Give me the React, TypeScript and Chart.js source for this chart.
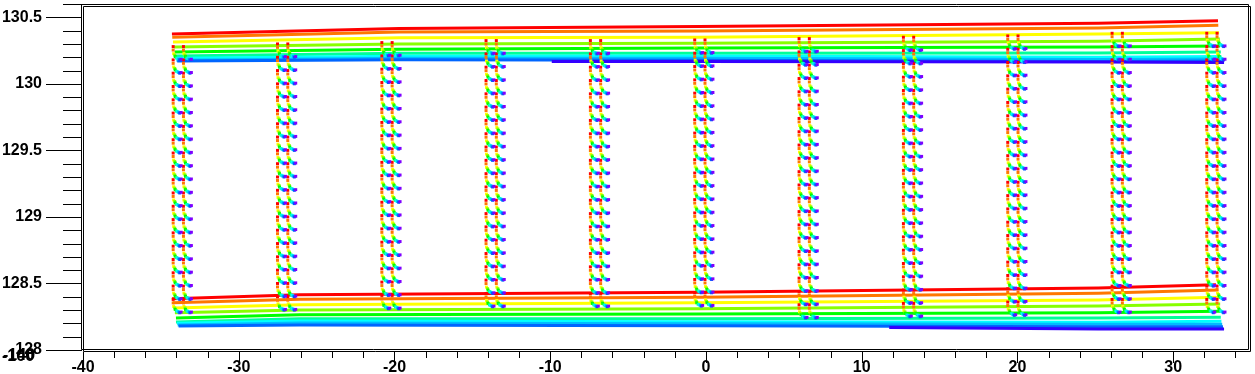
import React, { useEffect, useRef } from 'react';
import { Chart, registerables } from 'chart.js';

Chart.register(...registerables);

// ROOT-like rainbow palette (10 series)
const COLORS = ['#ff0000', '#ff7700', '#ffff00', '#88ff00', '#00ff00', '#00ff99', '#00ffff', '#00bbff', '#0055ff', '#7f00ff'];
const LINE_COLORS = ['#ff0000', '#ff7700', '#ffff00', '#88ff00', '#00ff00', '#00ff99', '#00ffff', '#00bbff', '#0066ff', '#3300ff'];

// Upper band of lines (x knots and y values per colour)
const TOP_X: number[][] = [
  [-34.29, -19.7, -0.45, 25.2, 32.88],
  [-34.27, -19.7, -0.45, 25.2, 32.9],
  [-34.22, -19.7, -0.45, 25.2, 32.95],
  [-34.16, -19.7, -0.45, 25.2, 33.0],
  [-34.12, -19.7, -0.45, 25.2, 33.02],
  [-34.07, -19.7, -0.45, 25.2, 33.06],
  [-34.03, -19.7, -0.45, 25.2, 33.1],
  [-34.0, -19.7, -0.45, 25.2, 33.15],
  [-33.95, -19.7, -0.45, 25.2, 33.22],
  [-9.9, -0.45, 25.2, 33.27],
];
const TOP_Y: number[][] = [
  [130.375, 130.416, 130.431, 130.455, 130.474],
  [130.35, 130.39, 130.397, 130.42, 130.44],
  [130.314, 130.347, 130.35, 130.375, 130.384],
  [130.277, 130.299, 130.305, 130.32, 130.337],
  [130.239, 130.26, 130.269, 130.277, 130.284],
  [130.209, 130.23, 130.23, 130.232, 130.239],
  [130.192, 130.207, 130.209, 130.199, 130.206],
  [130.177, 130.192, 130.192, 130.183, 130.187],
  [130.172, 130.181, 130.177, 130.168, 130.172],
  [130.168, 130.168, 130.164, 130.16],
];

// Lower band of lines
const BOT_X: number[][] = [
  [-34.29, -26.1, -0.45, 25.2, 32.75],
  [-34.22, -26.1, -0.45, 25.2, 32.9],
  [-34.16, -26.1, -0.45, 25.2, 32.95],
  [-34.1, -26.1, -0.45, 25.2, 33.02],
  [-34.03, -26.1, -0.45, 25.2, 33.06],
  [-34.03, -26.1, -0.45, 25.2, 33.06],
  [-33.97, -26.1, -0.45, 25.2, 33.1],
  [-33.92, -26.1, -0.45, 25.2, 33.15],
  [-33.86, -26.1, -0.45, 25.2, 33.2],
  [11.77, 25.2, 33.27],
];
const BOT_Y: number[][] = [
  [128.386, 128.416, 128.434, 128.466, 128.491],
  [128.355, 128.381, 128.396, 128.426, 128.451],
  [128.316, 128.34, 128.355, 128.376, 128.396],
  [128.28, 128.301, 128.31, 128.331, 128.346],
  [128.24, 128.265, 128.271, 128.28, 128.291],
  [128.21, 128.235, 128.235, 128.24, 128.246],
  [128.201, 128.218, 128.213, 128.208, 128.216],
  [128.188, 128.203, 128.198, 128.193, 128.193],
  [128.18, 128.188, 128.183, 128.175, 128.175],
  [128.169, 128.158, 128.158],
];

// Vertical dot columns
const COL_X = [-34.21, -27.51, -20.81, -14.12, -7.42, -0.72, 5.98, 12.68, 19.38, 26.08, 32.16];
const COL_TOP = [130.28, 130.3, 130.31, 130.325, 130.325, 130.33, 130.34, 130.35, 130.36, 130.38, 130.38];
const COL_ROWS = [20, 20, 20, 20, 20, 20, 21, 21, 21, 21, 21];
const ROW_OFFSETS = [0, 0.1, 0.2, 0.3, 0.4, 0.5, 0.6, 0.7, 0.8, 0.9, 1.0, 1.1, 1.2, 1.3, 1.4, 1.5, 1.6, 1.7, 1.8, 1.9, 2.0];
const STRAND_OFFSETS = [0, 0.66];
const DOT_DX = [0, 0, 0.03, 0.1, 0.13, 0.22, 0.29, 0.35, 0.42, 0.51];
const DOT_DY = [0, -0.026, -0.053, -0.064, -0.075, -0.086, -0.09, -0.094, -0.1, -0.095];

// Axes
const X_MIN = -40;
const X_MAX = 35;
const Y_MIN = 128;
const Y_MAX = 130.6;
const X_MAJOR = [-40, -30, -20, -10, 0, 10, 20, 30];
const X_TICK_LABELS = ['-40', '-30', '-20', '-10', '0', '10', '20', '30'];
const Y_MAJOR = [128, 128.5, 129, 129.5, 130, 130.5];
const Y_TICK_LABELS = ['128', '128.5', '129', '129.5', '130', '130.5'];

const FONT_FAMILY = '"Liberation Sans", Arial, Helvetica, sans-serif';

function labelFor(value: number, majors: number[], labels: string[]): string {
  for (let i = 0; i < majors.length; i++) {
    if (Math.abs(majors[i] - value) < 1e-6) return labels[i];
  }
  return '';
}

const rootFramePlugin = {
  id: 'rootFrame',
  afterDraw(chart: any) {
    const ctx = chart.ctx as CanvasRenderingContext2D;
    const xs = chart.scales.x;
    const ys = chart.scales.y;
    const a = chart.chartArea;
    const L = Math.round(a.left);
    const T = Math.round(a.top);
    const R = Math.round(a.right);
    const B = Math.round(a.bottom);
    ctx.save();
    ctx.strokeStyle = '#000';
    ctx.lineWidth = 1;
    // double frame (ROOT style)
    ctx.beginPath();
    ctx.rect(L - 1.5, T + 0.5, R - L - 1, B - T - 1);
    ctx.stroke();
    ctx.beginPath();
    ctx.rect(L + 0.5, T + 2.5, R - L - 1, B - T - 1);
    ctx.stroke();
    // y ticks
    ctx.beginPath();
    ys.ticks.forEach((t: any) => {
      const y = Math.round(ys.getPixelForValue(t.value)) + 0.5;
      const major = labelFor(t.value, Y_MAJOR, Y_TICK_LABELS) !== '';
      ctx.moveTo(major ? 46 : 63, y);
      ctx.lineTo(L - 1, y);
    });
    // x ticks
    xs.ticks.forEach((t: any) => {
      const x = Math.round(xs.getPixelForValue(t.value)) + 0.5;
      const major = labelFor(t.value, X_MAJOR, X_TICK_LABELS) !== '';
      ctx.moveTo(x, B + 2);
      ctx.lineTo(x, B + (major ? 13 : 8));
    });
    ctx.stroke();
    // overlapping stray labels at the bottom-left corner
    ctx.fillStyle = '#000';
    ctx.font = 'bold 16px ' + FONT_FAMILY;
    ctx.textBaseline = 'middle';
    ctx.textAlign = 'left';
    ctx.fillText('-100', 2, 357);
    ctx.fillText('-140', 3, 356);
    ctx.restore();
  },
};

export default function App() {
  const ref = useRef<HTMLCanvasElement>(null);
  useEffect(() => {
    if (!ref.current) return;
    const datasets: any[] = [];
    COLORS.forEach((c, i) => {
      const lc = LINE_COLORS[i];
      datasets.push({
        label: 'top' + i,
        data: TOP_X[i].map((x, j) => ({ x, y: TOP_Y[i][j] })),
        showLine: true,
        borderColor: lc,
        backgroundColor: lc,
        borderWidth: 3,
        pointRadius: 0,
        tension: 0,
        order: 40 - i,
      });
      datasets.push({
        label: 'bot' + i,
        data: BOT_X[i].map((x, j) => ({ x, y: BOT_Y[i][j] })),
        showLine: true,
        borderColor: lc,
        backgroundColor: lc,
        borderWidth: 3,
        pointRadius: 0,
        tension: 0,
        order: 40 - i,
      });
      const pts: { x: number; y: number }[] = [];
      COL_X.forEach((cx, ci) => {
        STRAND_OFFSETS.forEach((so) => {
          for (let k = 0; k < COL_ROWS[ci]; k++) {
            pts.push({ x: cx + so + DOT_DX[i], y: COL_TOP[ci] - ROW_OFFSETS[k] + DOT_DY[i] });
          }
        });
      });
      datasets.push({
        label: 'dots' + i,
        data: pts,
        showLine: false,
        pointStyle: 'rect',
        pointRadius: 2.1,
        pointBorderWidth: 0,
        borderWidth: 0,
        backgroundColor: c,
        pointBackgroundColor: c,
        order: 10 - i,
      });
    });

    const chart = new Chart(ref.current, {
      type: 'scatter',
      data: { datasets },
      plugins: [rootFramePlugin],
      options: {
        responsive: false,
        animation: false,
        events: [],
        layout: { padding: { left: 0, top: 4, right: 3, bottom: 0 } },
        plugins: { legend: { display: false }, tooltip: { enabled: false }, title: { display: false } },
        scales: {
          x: {
            type: 'linear',
            min: X_MIN,
            max: X_MAX,
            border: { display: false },
            grid: { display: false, drawTicks: false },
            afterFit: (s: any) => {
              s.height = 24;
              s.paddingLeft = 0;
              s.paddingRight = 0;
            },
            ticks: {
              stepSize: 2,
              includeBounds: false,
              autoSkip: false,
              maxRotation: 0,
              minRotation: 0,
              padding: 8,
              color: '#000',
              font: { family: FONT_FAMILY, size: 16, weight: 'bold' },
              callback: (v: any) => labelFor(Number(v), X_MAJOR, X_TICK_LABELS),
            },
          },
          y: {
            type: 'linear',
            min: Y_MIN,
            max: Y_MAX,
            border: { display: false },
            grid: { display: false, drawTicks: true, tickLength: 41 },
            afterFit: (s: any) => {
              s.width = 83;
              s.paddingTop = 0;
              s.paddingBottom = 0;
            },
            ticks: {
              stepSize: 0.1,
              includeBounds: false,
              autoSkip: false,
              padding: 0,
              color: '#000',
              font: { family: FONT_FAMILY, size: 16, weight: 'bold' },
              callback: (v: any) => labelFor(Number(v), Y_MAJOR, Y_TICK_LABELS),
            },
          },
        },
      } as any,
    });
    return () => chart.destroy();
  }, []);

  return (
    <div style={{ position: 'absolute', left: 0, top: 0, width: 1255, height: 374, background: '#fff' }}>
      <canvas ref={ref} width={1255} height={374} style={{ display: 'block', width: 1255, height: 374 }} />
    </div>
  );
}
